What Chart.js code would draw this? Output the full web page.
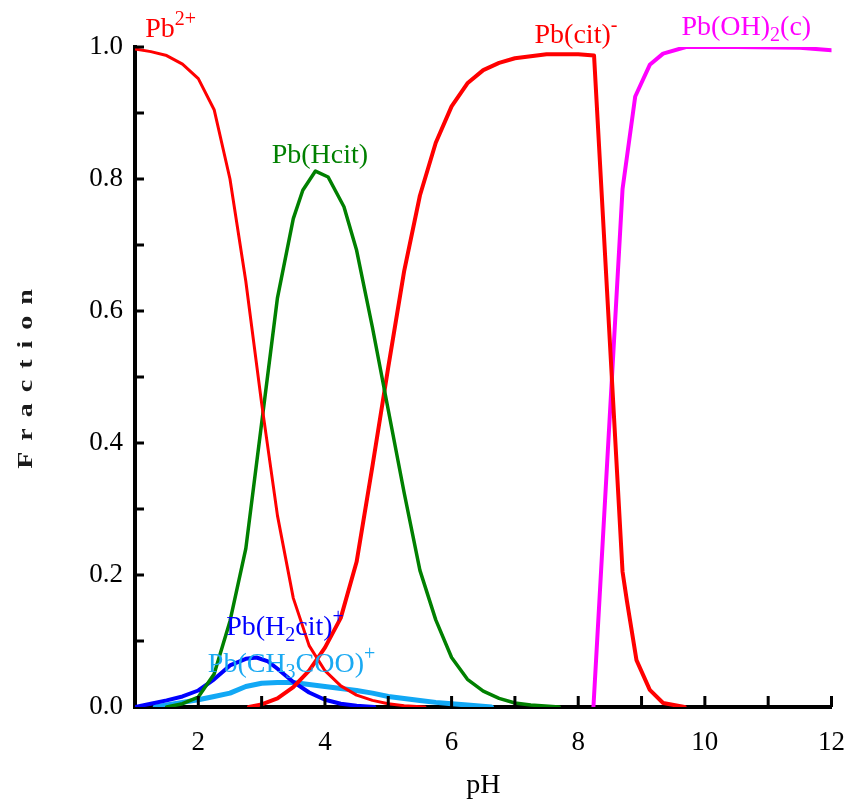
<!DOCTYPE html>
<html>
<head>
<meta charset="utf-8">
<script src="https://cdn.jsdelivr.net/npm/chart.js@4.4.0/dist/chart.umd.min.js"></script>
<style>
  html, body { margin: 0; padding: 0; background: #fff; }
</style>
</head>
<body>
<canvas id="c" width="865" height="802"></canvas>
<script>
// Pb species fraction vs pH

// Pb2+
const phPb = [1.0, 1.25, 1.5, 1.75, 2.0, 2.25, 2.5, 2.75, 3.0, 3.25, 3.5, 3.75, 4.0, 4.25, 4.5, 4.75, 5.0, 5.25, 5.58];
const fracPb = [0.997, 0.993, 0.987, 0.974, 0.952, 0.905, 0.80, 0.645, 0.46, 0.29, 0.165, 0.093, 0.055, 0.032, 0.018, 0.010, 0.005, 0.002, 0.0];

// Pb(Hcit)
const phHcit = [1.5, 1.75, 2.0, 2.25, 2.5, 2.75, 3.0, 3.25, 3.5, 3.65, 3.85, 4.05, 4.3, 4.5, 4.75, 5.0, 5.25, 5.5, 5.75, 6.0, 6.25, 6.5, 6.75, 7.0, 7.25, 7.7];
const fracHcit = [0.0, 0.005, 0.015, 0.05, 0.13, 0.24, 0.43, 0.62, 0.74, 0.783, 0.812, 0.803, 0.758, 0.692, 0.575, 0.45, 0.325, 0.207, 0.132, 0.075, 0.042, 0.024, 0.013, 0.006, 0.003, 0.0];

// Pb(cit)-
const phCit = [2.8, 3.0, 3.25, 3.5, 3.75, 4.0, 4.25, 4.5, 4.75, 5.0, 5.25, 5.5, 5.75, 6.0, 6.25, 6.5, 6.75, 7.0, 7.5, 8.0, 8.25, 8.7, 8.77, 8.92, 9.13, 9.34, 9.68];
const fracCit = [0.0, 0.004, 0.013, 0.03, 0.055, 0.09, 0.135, 0.22, 0.365, 0.515, 0.66, 0.775, 0.855, 0.91, 0.945, 0.965, 0.976, 0.983, 0.989, 0.989, 0.987, 0.205, 0.16, 0.071, 0.026, 0.006, 0.0];

// Pb(OH)2(c)
const phOH = [8.24, 8.7, 8.9, 9.13, 9.34, 9.7, 10.5, 11.5, 12.0];
const fracOH = [0.0, 0.785, 0.925, 0.973, 0.99, 1.0, 1.0, 0.999, 0.995];

// Pb(H2cit)+
const phH2cit = [1.0, 1.25, 1.5, 1.75, 2.0, 2.25, 2.5, 2.75, 2.92, 3.1, 3.25, 3.5, 3.75, 4.0, 4.25, 4.5, 4.78];
const fracH2cit = [0.0, 0.005, 0.01, 0.016, 0.025, 0.042, 0.063, 0.073, 0.075, 0.069, 0.058, 0.038, 0.022, 0.011, 0.005, 0.002, 0.0];

// Pb(CH3COO)+
const phAc = [1.32, 1.5, 1.75, 2.0, 2.25, 2.5, 2.75, 3.0, 3.25, 3.5, 3.75, 4.0, 4.25, 4.5, 4.75, 5.0, 5.25, 5.5, 5.75, 6.0, 6.25, 6.63];
const fracAc = [0.0, 0.003, 0.007, 0.011, 0.016, 0.021, 0.031, 0.036, 0.037, 0.037, 0.034, 0.031, 0.028, 0.025, 0.021, 0.016, 0.013, 0.01, 0.007, 0.005, 0.003, 0.0];

const xTicks = [1, 2, 3, 4, 5, 6, 7, 8, 9, 10, 11, 12];
const yTickLabels = ['0.0', '0.2', '0.4', '0.6', '0.8', '1.0'];

const SERIF = "'Liberation Serif', 'Times New Roman', serif";

function pts(xs, ys) {
  return xs.map((v, i) => ({ x: v, y: ys[i] }));
}

function line(label, xs, ys, color, w) {
  return {
    label: label,
    data: pts(xs, ys),
    borderColor: color,
    backgroundColor: color,
    borderWidth: w,
    pointRadius: 0,
    tension: 0,
    fill: false,
    borderCapStyle: 'round',
    borderJoinStyle: 'round'
  };
}

// species labels, anchored in data units (pH, fraction)
const speciesLabels = [
  { x: 1.16, y: 1.015, color: '#ff0000', align: 'left', runs: [['Pb'], ['2+', 'sup']] },
  { x: 3.92, y: 0.824, color: '#008000', align: 'center', runs: [['Pb(Hcit)']] },
  { x: 7.31, y: 1.006, color: '#ff0000', align: 'left', runs: [['Pb(cit)'], ['-', 'sup']] },
  { x: 9.63, y: 1.018, color: '#ff00ff', align: 'left', runs: [['Pb(OH)'], ['2', 'sub'], ['(c)']] },
  { x: 2.44, y: 0.109, color: '#0000ff', align: 'left', runs: [['Pb(H'], ['2', 'sub'], ['cit)'], ['+', 'sup']] },
  { x: 2.15, y: 0.053, color: '#1aa9f2', align: 'left', runs: [['Pb(CH'], ['3', 'sub'], ['COO)'], ['+', 'sup']] }
];

function runFont(kind) {
  return (kind ? '20px ' : '28px ') + SERIF;
}

const decorPlugin = {
  id: 'decor',
  afterDraw(chart) {
    const ctx = chart.ctx;
    const x = chart.scales.x, y = chart.scales.y, area = chart.chartArea;
    ctx.save();

    // inward tick marks
    ctx.strokeStyle = '#000';
    ctx.lineWidth = 3;
    y.ticks.forEach(t => {
      if (t.value <= 0) return;
      const py = y.getPixelForValue(t.value);
      ctx.beginPath(); ctx.moveTo(area.left, py); ctx.lineTo(area.left + 9, py); ctx.stroke();
    });
    x.ticks.forEach(t => {
      if (t.value <= 1) return;
      const px = x.getPixelForValue(t.value);
      ctx.beginPath(); ctx.moveTo(px, area.bottom); ctx.lineTo(px, area.bottom - 11); ctx.stroke();
    });

    // species labels
    ctx.textBaseline = 'alphabetic';
    ctx.textAlign = 'left';
    speciesLabels.forEach(l => {
      let w = 0;
      l.runs.forEach(r => { ctx.font = runFont(r[1]); w += ctx.measureText(r[0]).width; });
      let px = x.getPixelForValue(l.x);
      const py = y.getPixelForValue(l.y);
      if (l.align === 'center') px -= w / 2;
      ctx.fillStyle = l.color;
      l.runs.forEach(r => {
        ctx.font = runFont(r[1]);
        const dy = r[1] === 'sup' ? -12 : (r[1] === 'sub' ? 6 : 0);
        ctx.fillText(r[0], px, py + dy);
        px += ctx.measureText(r[0]).width;
      });
    });

    // y axis title, bold and stretched out
    const title = 'Fraction';
    ctx.font = 'bold 20px ' + SERIF;
    ctx.fillStyle = '#1a1a1a';
    ctx.translate(32, (area.top + area.bottom) / 2 + 2);
    ctx.rotate(-Math.PI / 2);
    const sx = 1.4, gap = 11;
    let total = 0;
    for (const ch of title) total += ctx.measureText(ch).width * sx;
    total += gap * (title.length - 1);
    let cx = -total / 2;
    for (const ch of title) {
      ctx.save();
      ctx.translate(cx, 0);
      ctx.scale(sx, 1);
      ctx.fillText(ch, 0, 0);
      ctx.restore();
      cx += ctx.measureText(ch).width * sx + gap;
    }
    ctx.restore();
  }
};

const ctx = document.getElementById('c').getContext('2d');
new Chart(ctx, {
  type: 'line',
  data: {
    datasets: [
      line('Pb2+', phPb, fracPb, '#ff0000', 3),
      line('Pb(Hcit)', phHcit, fracHcit, '#008000', 3.5),
      line('Pb(cit)-', phCit, fracCit, '#ff0000', 4),
      line('Pb(OH)2(c)', phOH, fracOH, '#ff00ff', 4),
      line('Pb(H2cit)+', phH2cit, fracH2cit, '#0000ff', 4),
      line('Pb(CH3COO)+', phAc, fracAc, '#12a8f5', 5)
    ]
  },
  options: {
    responsive: false,
    animation: false,
    devicePixelRatio: 1,
    layout: { padding: { left: 0, right: 33, top: 47, bottom: 0 } },
    plugins: { legend: { display: false }, tooltip: { enabled: false } },
    scales: {
      x: {
        type: 'linear',
        min: 1,
        max: 12,
        afterBuildTicks(s) { s.ticks = xTicks.map(v => ({ value: v })); },
        afterFit(s) { s.height = 95; },
        ticks: {
          autoSkip: false,
          maxRotation: 0,
          padding: 20,
          color: '#000',
          font: { family: SERIF, size: 27 },
          callback: v => (v % 2 === 0 ? String(v) : '')
        },
        grid: { display: false, drawTicks: false },
        border: { display: true, color: '#000', width: 4 },
        title: { display: true, text: 'pH', color: '#000', font: { family: SERIF, size: 28 }, padding: 0 }
      },
      y: {
        min: 0,
        max: 1,
        afterBuildTicks(s) {
          const t = [];
          for (let i = 0; i <= 10; i++) t.push({ value: i / 10 });
          s.ticks = t;
        },
        afterFit(s) { s.width = 135; },
        ticks: {
          autoSkip: false,
          padding: 12,
          color: '#000',
          font: { family: SERIF, size: 27 },
          callback: v => {
            const k = Math.round(v * 10);
            return k % 2 === 0 ? yTickLabels[k / 2] : '';
          }
        },
        grid: { display: false, drawTicks: false },
        border: { display: true, color: '#000', width: 4 }
      }
    }
  },
  plugins: [decorPlugin]
});
</script>
</body>
</html>
